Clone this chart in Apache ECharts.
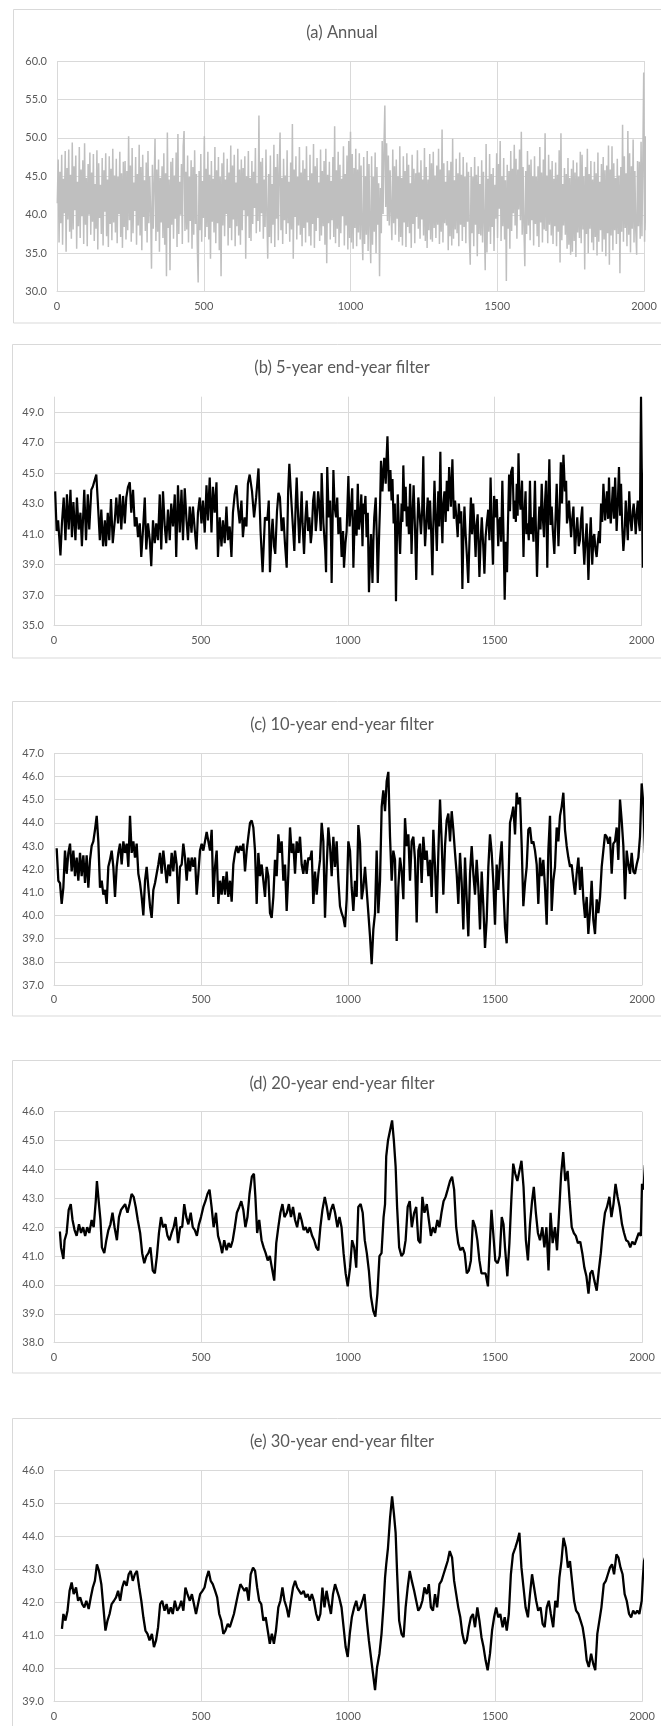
<!DOCTYPE html>
<html><head><meta charset="utf-8">
<script src="https://cdn.jsdelivr.net/npm/echarts@6/dist/echarts.min.js"></script>
<style>html,body{margin:0;padding:0;background:#fff}#c{width:661px;height:1726px}</style>
</head><body><div id="c"></div>
<script>
// ---------------- data ----------------
const titles = ['(a) Annual', '(b) 5-year end-year filter', '(c) 10-year end-year filter', '(d) 20-year end-year filter', '(e) 30-year end-year filter'];
const xRange = [0, 2000, 500];
const yRanges = [[30, 60, 5], [35, 50, 2], [37, 47, 1], [38, 46, 1], [39, 46, 1]];

// (a) annual values, one reading every 3 years from year 1
const annualStart = 1, annualStep = 3;
const annual = [
41.5,47.2,36.4,45.6,38.9,47.8,36.1,44.7,40.2,48.3,
35.2,46.1,39.4,48.5,37.8,45.2,36.9,49.4,38.1,46.3,
40.6,47.7,35.6,44.3,38.5,48.8,37.0,45.9,39.8,47.1,
36.2,49.3,38.7,44.8,35.9,46.6,40.0,48.1,37.4,45.5,
39.1,47.9,36.6,44.0,38.2,48.4,35.5,46.7,39.6,43.9,
37.5,47.4,36.0,45.8,40.4,48.0,37.2,44.6,35.8,47.6,
38.8,46.0,36.7,48.6,39.0,45.1,37.7,47.3,36.3,44.9,
40.1,48.2,37.1,45.4,35.7,46.9,38.4,47.0,36.8,45.7,
38.0,50.2,39.3,46.4,36.5,48.7,37.6,44.2,40.5,47.5,
36.1,45.3,38.6,49.1,37.3,46.2,35.4,47.8,39.7,44.5,
37.9,46.8,36.4,48.3,38.9,45.0,40.3,33.0,46.5,38.2,
44.1,49.9,36.6,45.9,37.8,47.2,35.2,44.8,39.0,46.3,
37.0,48.0,36.1,45.4,32.0,50.7,38.3,44.6,32.8,46.9,
38.7,47.4,36.9,45.1,39.5,48.1,35.8,50.5,37.5,44.3,
40.0,46.6,36.2,48.9,50.9,37.9,45.6,38.1,47.7,36.4,
44.9,39.2,47.1,35.6,46.2,37.4,48.4,38.8,45.3,36.0,
31.2,45.7,38.0,47.9,36.5,44.4,39.6,50.2,37.1,46.0,
38.4,48.2,36.8,45.2,34.3,47.0,39.1,44.7,37.7,48.8,
36.3,45.8,38.9,47.5,35.4,44.9,32.0,46.7,38.6,48.1,
37.2,44.6,40.1,47.3,36.0,45.5,38.3,49.0,36.7,46.4,
39.4,47.8,35.9,44.2,38.5,48.6,37.3,45.9,36.1,47.2,
38.0,46.1,40.6,47.6,34.3,45.0,39.8,48.3,37.0,44.8,
36.6,47.0,38.8,45.6,40.9,48.7,37.6,44.1,39.2,52.9,
37.8,46.9,40.2,47.4,36.9,44.6,38.4,48.5,39.9,34.3,
45.3,37.1,47.7,36.3,44.0,38.7,49.1,35.8,46.2,39.5,
47.9,36.7,45.4,50.7,38.0,44.8,36.2,47.3,39.3,45.1,
37.5,48.4,38.9,44.3,36.5,46.8,38.1,51.8,34.3,45.9,
39.7,47.6,36.8,44.9,38.6,48.8,37.4,45.5,35.9,47.1,
38.3,46.0,36.4,48.9,39.0,44.5,37.2,47.8,36.0,45.4,
38.8,49.2,35.7,46.3,37.9,47.4,39.6,44.2,36.6,48.5,
37.3,45.7,38.5,47.0,36.1,48.6,33.7,45.2,38.9,46.9,
36.8,44.4,39.3,47.5,37.1,51.5,36.3,45.8,38.2,48.2,
35.8,46.5,37.6,44.7,39.8,48.9,36.0,45.3,38.6,47.7,
35.5,49.6,37.0,50.8,36.4,47.9,35.6,46.1,38.3,48.6,
35.9,45.9,37.7,48.0,36.8,46.4,38.0,34.1,47.5,36.2,
45.0,37.4,48.3,35.3,46.6,38.5,33.7,47.6,36.1,44.9,
37.8,48.1,35.0,46.2,38.7,44.1,32.0,43.5,37.6,49.6,
40.1,48.8,54.2,41.0,49.3,39.2,47.7,38.6,45.8,40.3,
36.7,48.5,38.9,46.3,37.4,47.2,39.5,45.0,36.5,48.9,
37.1,44.8,36.0,47.6,39.0,45.7,35.8,48.0,38.4,46.5,
37.6,44.1,35.7,47.8,38.8,46.0,36.3,45.4,39.7,48.4,
38.2,45.5,36.9,47.1,39.4,44.6,37.3,48.7,36.6,46.2,
35.7,44.6,38.0,47.9,36.8,46.7,36.5,48.2,38.3,45.1,
37.0,46.4,38.7,48.6,36.2,45.9,37.8,51.1,36.4,46.7,
38.9,44.3,38.6,47.0,35.4,45.8,37.2,46.9,36.0,49.9,
36.9,44.5,38.1,47.3,37.6,45.4,35.9,48.1,38.7,45.2,
36.6,47.5,38.4,44.9,36.3,46.8,39.1,45.6,37.0,33.5,
46.2,37.6,44.9,35.9,47.5,38.7,45.2,34.6,46.3,37.5,
44.0,37.3,47.1,36.4,45.6,38.9,32.8,49.2,35.1,44.7,
37.8,47.9,36.2,45.3,38.4,46.1,35.3,43.9,39.5,48.0,
37.0,46.6,40.8,49.6,36.6,45.0,38.5,47.4,36.8,44.5,
31.4,46.5,38.2,45.7,35.6,48.3,37.9,46.0,40.2,49.1,
38.6,47.3,36.9,45.9,40.7,48.5,39.3,50.8,37.4,46.2,
38.2,33.3,45.7,37.5,48.3,38.6,46.5,36.7,47.2,39.3,
45.0,36.0,47.6,38.8,44.9,37.2,46.3,35.8,48.8,39.0,
45.5,36.4,47.2,38.1,50.6,37.9,45.1,36.3,47.8,38.7,
45.9,37.3,47.0,36.2,44.7,38.5,46.8,35.9,45.2,37.8,
48.4,33.8,50.6,36.7,44.0,38.6,46.1,37.4,45.3,35.6,
47.4,36.1,44.8,34.8,46.0,35.2,47.1,36.6,45.5,34.5,
46.8,37.7,44.9,37.0,48.2,36.3,47.8,38.1,45.0,32.9,
46.2,37.5,48.6,35.0,45.3,38.2,47.0,36.4,44.6,35.4,
46.9,37.1,45.4,34.7,48.1,36.5,44.3,38.0,46.6,35.2,
47.5,36.8,45.8,34.6,46.4,37.6,49.0,33.5,45.9,37.3,
48.9,35.4,46.7,38.0,44.8,36.2,47.3,37.5,45.1,32.4,
46.2,37.8,51.7,36.5,47.6,38.3,45.4,35.9,50.9,37.4,
48.0,35.1,46.3,38.2,49.8,36.4,45.7,37.9,34.8,47.0,
38.5,46.9,36.9,49.5,37.2,47.2,58.5,36.5,50.2,38.0,
46.5
];

// (b) 5-year filter: [year, value]
const fiveYear = [
[4,43.8],[9,41.2],[14,41.9],[22,39.6],[27,41.7],[33,43.4],[39,40.6],[44,43.6],[50,41.3],[56,43.9],[61,40.8],[66,43.1],[73,40.6],[78,43.4],[84,41.3],[90,42.4],[95,40.2],[103,43.9],[109,40.6],[115,43.6],[120,41.3],[127,43.9],[132,44.1],[138,44.5],[144,44.9],[150,42.8],[156,40.6],[161,42.6],[167,40.2],[173,41.9],[177,40.2],[183,42.4],[188,40.6],[194,43.3],[200,40.4],[207,41.9],[212,43.4],[218,41.7],[224,43.6],[229,41.3],[235,43.5],[241,41.7],[246,43.4],[252,44.1],[258,44.4],[263,42.4],[269,43.9],[275,41.5],[281,42.1],[286,40.8],[292,41.7],[297,39.5],[303,41.3],[309,43.4],[314,40.0],[320,41.7],[326,40.6],[331,38.9],[337,41.9],[343,40.4],[348,41.7],[354,40.6],[360,43.6],[365,40.0],[371,43.8],[377,41.5],[382,40.4],[388,42.6],[394,40.6],[399,43.0],[405,41.5],[411,43.6],[416,39.5],[422,44.2],[428,41.1],[434,43.9],[439,40.6],[445,44.0],[451,41.9],[456,40.6],[462,42.8],[468,41.1],[473,42.8],[479,41.3],[485,40.0],[490,42.4],[496,43.4],[502,41.7],[507,43.2],[513,41.1],[519,44.2],[524,41.9],[530,44.7],[536,41.1],[541,44.1],[547,42.4],[553,44.4],[558,39.5],[564,42.1],[570,40.2],[575,41.9],[581,40.4],[587,42.8],[592,40.6],[598,41.5],[604,39.5],[609,42.4],[615,43.6],[621,44.2],[626,42.8],[632,41.7],[638,43.2],[643,40.8],[649,42.1],[655,41.5],[660,44.3],[666,44.9],
[674,43.8],[681,42.1],[688,43.4],[696,45.3],[703,41.2],[710,38.5],[718,42.1],[726,41.9],[731,43.2],[735,38.5],[741,41.2],[744,42.0],[749,40.2],[753,39.7],[759,42.5],[764,43.7],[769,43.4],[775,41.2],[781,42.1],[786,40.4],[792,38.8],[797,43.8],[801,45.6],[806,43.8],[809,42.8],[814,41.2],[818,39.9],[823,43.2],[826,44.7],[831,42.1],[835,40.4],[840,42.5],[843,43.8],[846,41.7],[851,39.7],[856,42.1],[860,43.2],[865,41.2],[869,42.1],[874,40.4],[877,41.0],[882,43.2],[886,43.8],[891,41.2],[894,41.9],[899,43.8],[903,43.0],[908,41.2],[911,45.0],[917,41.7],[923,40.0],[926,38.5],[930,45.4],[935,42.1],[940,43.2],[943,40.6],[945,37.8],[951,45.2],[955,42.8],[960,42.1],[964,43.4],[968,41.0],[974,42.1],[979,39.5],[984,41.2],[987,38.8],[992,40.4],[996,41.2],[1002,44.8],
[1006,41.5],[1011,42.8],[1015,44.0],[1019,38.8],[1022,41.0],[1025,42.6],[1030,40.9],[1034,44.3],[1038,41.3],[1042,42.1],[1046,43.6],[1050,40.2],[1053,43.0],[1056,42.3],[1060,43.5],[1064,40.8],[1068,42.4],[1072,37.2],[1076,39.5],[1079,41.0],[1084,37.8],[1087,40.5],[1090,42.1],[1095,43.4],[1099,40.6],[1102,37.8],[1107,41.2],[1110,43.0],[1113,45.8],[1118,43.8],[1121,45.0],[1124,46.0],[1129,44.3],[1132,46.0],[1135,47.4],[1140,43.8],[1145,45.2],[1149,43.2],[1152,44.6],[1156,41.7],[1160,43.0],[1164,36.6],[1167,40.5],[1170,43.6],[1174,41.5],[1178,39.7],[1183,43.0],[1186,41.8],[1189,45.5],[1193,42.5],[1197,44.1],[1201,41.5],[1204,42.8],[1208,41.0],[1212,44.3],[1217,39.7],[1220,42.0],[1224,44.2],[1229,41.2],[1233,38.0],[1236,41.0],[1240,43.4],[1245,42.2],[1249,41.0],[1253,42.5],[1257,46.1],[1260,42.0],[1263,40.2],[1268,42.0],[1272,43.4],[1276,41.3],[1280,43.2],[1284,41.0],[1288,38.3],[1291,41.5],[1295,44.5],[1299,42.0],[1303,39.9],[1308,43.8],[1311,41.5],[1315,46.4],[1318,42.5],[1322,40.4],[1325,43.0],[1329,43.8],[1333,41.8],[1337,44.5],[1341,42.5],[1345,45.4],[1351,42.8],[1356,45.9],[1361,42.0],[1365,43.2],[1370,42.0],[1374,40.8],[1378,43.0],[1382,41.7],[1386,42.5],[1390,37.4],[1393,40.5],[1397,42.8],[1401,41.0],[1405,39.7],[1410,37.8],[1414,40.5],[1419,43.4],[1423,41.0],[1427,43.0],[1431,41.5],[1435,39.5],[1438,41.5],[1442,42.3],[1448,38.2],[1452,40.5],[1456,42.1],[1461,40.2],[1465,38.4],[1469,40.8],[1473,41.7],[1478,42.6],[1482,40.6],[1486,44.7],[1490,41.5],[1494,39.0],[1498,43.5],[1503,42.1],[1507,43.3],[1512,40.2],[1515,41.8],[1519,42.1],[1522,40.5],[1526,44.5],[1530,41.0],[1534,36.7],[1538,40.5],[1542,38.5],[1545,41.5],[1549,44.9],[1552,42.5],[1556,45.1],[1561,45.4],[1565,42.0],[1569,43.2],[1572,41.8],[1575,44.3],[1578,42.2],[1581,46.3],[1584,43.5],[1588,42.6],[1593,44.5],[1598,39.5],[1601,42.2],[1605,43.8],[1608,41.0],[1612,41.7],[1616,40.6],[1620,44.5],[1624,41.0],[1628,42.1],[1632,40.5],[1637,44.5],[1640,41.6],[1644,38.2],[1648,41.0],[1652,42.8],[1656,41.3],[1660,44.3],[1664,42.0],[1668,40.8],[1671,43.0],[1675,44.5],[1679,38.8],[1682,42.5],[1686,45.9],[1690,41.6],[1694,42.8],[1698,41.2],[1703,39.7],[1707,42.0],[1711,44.3],[1717,40.2],[1721,42.5],[1725,45.7],[1729,43.0],[1734,46.2],[1739,43.8],[1743,44.5],[1746,41.7],[1750,42.3],[1753,43.2],[1757,41.8],[1760,40.8],[1764,42.0],[1768,42.8],[1773,39.7],[1777,41.0],[1781,42.1],[1786,40.2],[1790,40.6],[1794,42.0],[1798,42.8],[1801,40.5],[1805,39.0],[1809,40.6],[1813,41.7],[1816,40.0],[1819,38.0],[1823,40.5],[1827,42.1],[1832,39.0],[1836,40.8],[1839,41.0],[1843,40.0],[1847,39.5],[1851,40.5],[1855,41.2],[1858,40.4],[1862,43.0],[1866,41.8],[1870,44.3],[1876,41.9],[1879,43.0],[1882,43.8],[1886,42.0],[1889,44.7],[1892,42.6],[1895,41.7],[1899,43.0],[1902,44.1],[1906,42.0],[1910,44.7],[1915,41.2],[1919,43.0],[1923,45.4],[1927,42.2],[1930,44.3],[1934,41.5],[1938,39.9],[1942,41.0],[1946,43.2],[1950,41.8],[1953,40.6],[1958,43.8],[1962,42.0],[1966,41.2],[1970,42.5],[1973,43.0],[1977,42.0],[1980,41.0],[1984,42.5],[1987,43.2],[1991,41.7],[1994,41.2],[1998,50.0],[2004,38.8],[2009,46.1]
];

// (c) 10-year filter, one reading every 5.669 years from year 9.1
const tenYearStart = 9.1, tenYearStep = 5.669;
const tenYear = [
42.9,41.5,41.4,40.5,41.2,42.8,41.8,42.7,43.1,41.9,
42.8,41.7,42.5,41.5,42.7,41.7,42.6,41.4,42.6,41.2,
42.4,43.0,43.2,43.7,44.3,43.2,41.2,41.5,40.9,41.1,
40.5,42.1,42.4,42.8,42.1,40.8,42.1,42.7,43.1,42.2,
43.2,42.7,43.1,42.1,44.3,42.7,43.2,42.5,43.1,41.8,
41.4,40.8,40.0,41.5,42.1,41.2,40.4,39.9,41.1,41.4,
41.8,42.2,42.7,41.8,42.8,42.1,41.4,42.2,41.7,42.7,
41.9,42.8,42.2,40.5,42.1,42.2,43.1,42.5,41.5,42.5,
41.9,42.5,42.1,42.5,40.9,41.8,42.8,43.1,42.8,43.2,
43.6,43.2,42.8,43.7,40.8,42.1,42.8,40.5,41.5,40.9,
41.7,40.9,41.9,40.8,41.5,40.6,42.2,42.7,43.0,42.7,
43.0,42.8,43.1,41.9,42.8,43.4,44.0,44.1,43.8,42.8,
40.5,42.7,41.7,42.2,41.5,40.8,42.1,41.7,40.1,39.9,
40.8,42.4,41.7,43.5,42.7,43.2,41.5,42.2,40.2,41.8,
43.8,42.7,43.1,41.8,43.2,42.7,43.4,42.2,41.8,42.4,
41.8,42.5,42.4,42.8,40.5,41.9,40.9,41.8,42.4,44.0,
43.2,39.9,42.1,43.8,43.0,41.7,43.4,42.1,43.2,41.5,
40.4,40.1,39.9,39.5,40.7,43.2,
42.8,41.2,40.2,41.5,40.8,43.9,43.1,40.7,41.2,42.1,
41.1,40.1,39.1,37.9,39.4,40.1,42.8,40.1,41.5,44.7,
45.4,44.5,45.8,46.2,43.4,41.5,42.8,42.4,38.9,41.2,
42.5,41.9,40.7,44.2,43.0,43.5,41.5,43.2,43.4,42.4,
39.7,42.8,43.1,41.4,43.4,42.4,42.8,41.7,42.4,40.8,
43.7,42.1,40.1,42.7,45.0,43.2,40.9,43.0,44.1,44.4,
43.2,44.5,43.7,42.7,41.8,40.5,42.7,41.4,39.4,42.5,
40.7,39.1,41.8,43.0,41.8,40.9,42.4,41.2,39.4,41.9,
40.4,38.6,39.8,42.1,43.5,42.7,41.4,39.6,42.2,41.1,
42.4,43.2,41.2,39.5,38.8,41.2,44.0,44.3,44.7,43.5,
45.3,44.8,45.1,43.0,40.4,41.4,42.1,43.7,43.8,43.1,
43.2,42.8,42.2,40.5,42.5,41.7,42.4,41.2,39.6,42.8,
44.3,40.2,41.5,42.1,43.8,43.2,44.3,44.7,45.3,43.7,
43.0,42.5,42.1,42.2,41.5,40.9,41.8,42.5,41.1,42.1,
40.7,39.9,40.8,39.2,40.2,41.5,39.8,39.2,40.7,40.1,
40.8,42.1,42.8,43.5,43.4,43.1,43.4,41.8,43.1,43.2,
43.8,42.4,45.0,44.1,43.0,40.7,42.8,42.2,41.8,42.7,
41.9,41.8,42.2,42.5,43.4,45.7,44.8,42.7
];

// (d) 20-year filter: [year, value]
const twentyYear = [
[20,41.85],[24,41.3],[32,40.9],[36,41.55],[43,41.8],[50,42.6],[57,42.8],[63,42.25],[70,41.9],[77,41.7],[85,42.1],[92,41.8],[99,42.0],[106,41.7],[113,42.0],[120,41.8],[128,42.25],[135,42.0],[142,42.9],[146,43.6],[152,42.9],[158,42.25],[163,41.3],[171,41.1],[178,41.55],[185,41.9],[192,42.1],[199,42.5],[206,42.0],[214,41.55],[221,42.35],[228,42.6],[235,42.7],[242,42.8],[250,42.5],[257,42.8],[264,43.15],[271,43.05],[278,42.7],[285,42.25],[293,41.8],[300,41.1],[307,40.75],[314,41.0],[321,41.1],[328,41.3],[336,40.5],[343,40.4],[350,41.0],[357,41.8],[364,42.35],[371,42.0],[379,42.1],[386,41.7],[393,41.55],[400,41.8],[407,42.0],[414,42.35],[422,41.45],[429,42.0],[436,42.0],[443,42.8],[450,42.35],[457,42.1],[465,42.5],[472,42.0],[479,41.9],[486,41.7],[493,42.1],[500,42.35],[508,42.7],[515,42.9],[522,43.15],[529,43.3],[536,42.7],[543,42.0],[551,42.5],[558,41.7],[565,41.45],[572,41.1],[579,41.55],[587,41.2],[594,41.45],[601,41.3],[608,41.55],[615,42.0],[622,42.5],[630,42.7],[637,42.9],[644,42.6],[651,42.0],[658,42.35],[665,43.15],[673,43.75],[680,43.85],[685,43.05],[691,41.8],[698,42.25],[706,41.55],[713,41.3],[720,41.1],[727,40.85],[734,41.0],[741,40.6],[749,40.15],[756,41.45],[763,42.0],[770,42.5],[777,42.8],[784,42.35],[792,42.5],[799,42.8],[806,42.35],[813,42.7],[820,42.25],[827,42.0],[835,42.5],[842,42.25],[849,41.9],[856,42.0],[863,41.8],[870,42.0],[878,41.7],[885,41.55],[892,41.3],[899,41.2],[906,42.0],[913,42.6],[921,43.05],[928,42.7],[935,42.25],[942,42.6],[949,42.8],[956,42.5],[964,42.0],[971,42.35],[978,42.0],[985,41.1],[992,40.4],[999,39.95],[1007,40.6],[1014,41.55],[1021,41.3],[1028,40.6],[1035,42.7],[1043,42.8],[1050,42.5],[1057,41.55],[1064,41.1],[1071,40.5],[1078,39.6],[1086,39.1],[1093,38.9],[1100,39.7],[1107,41.0],[1114,41.1],[1121,42.35],[1126,42.8],[1130,44.45],[1136,45.0],[1143,45.35],[1150,45.7],[1156,45.0],[1162,44.1],[1167,42.7],[1174,41.3],[1182,41.0],[1189,41.1],[1196,41.55],[1203,42.7],[1210,42.9],[1217,42.0],[1225,42.5],[1232,42.7],[1239,41.55],[1246,41.45],[1253,43.05],[1260,42.5],[1268,42.8],[1275,42.25],[1282,41.7],[1289,42.0],[1296,41.8],[1304,42.25],[1311,42.0],[1318,42.5],[1325,42.9],[1332,43.05],[1339,43.3],[1347,43.6],[1354,43.75],[1361,43.3],[1368,42.0],[1375,41.45],[1382,41.2],[1390,41.3],[1397,41.1],[1404,40.4],[1411,40.5],[1418,40.85],[1425,42.25],[1433,42.0],[1440,41.55],[1447,40.85],[1454,40.4],[1461,40.4],[1468,40.4],[1476,39.95],[1483,41.55],[1488,42.6],[1494,41.8],[1501,40.85],[1509,40.75],[1516,41.0],[1523,42.35],[1529,42.1],[1534,41.3],[1542,40.3],[1549,41.45],[1556,43.05],[1562,44.2],[1569,43.85],[1576,43.6],[1583,43.95],[1590,44.3],[1597,43.4],[1605,41.55],[1612,40.85],[1619,42.1],[1626,42.9],[1632,43.4],[1639,42.5],[1646,41.8],[1653,41.55],[1661,42.0],[1668,41.3],[1675,42.0],[1682,40.5],[1689,42.5],[1696,41.45],[1704,42.0],[1711,41.2],[1718,42.5],[1725,43.85],[1732,44.6],[1739,43.6],[1747,43.95],[1754,42.9],[1761,42.0],[1768,41.8],[1775,41.7],[1782,41.45],[1790,41.5],[1797,41.1],[1804,40.6],[1811,40.3],[1818,39.7],[1824,40.4],[1831,40.5],[1838,40.15],[1846,39.8],[1853,40.5],[1860,41.1],[1867,41.9],[1874,42.5],[1881,42.7],[1889,43.05],[1896,42.35],[1903,42.8],[1910,43.5],[1917,43.05],[1924,42.7],[1932,42.1],[1939,41.8],[1946,41.55],[1953,41.5],[1960,41.3],[1967,41.5],[1975,41.4],[1982,41.6],[1989,41.8],[1996,41.7],[2000,43.5],[2005,43.3],[2010,44.15]
];

// (e) 30-year filter: [year, value]
const thirtyYear = [
[27,41.2],[32,41.65],[39,41.45],[46,41.75],[53,42.35],[60,42.6],[67,42.25],[75,42.45],[82,42.05],[89,42.15],[96,41.95],[103,41.85],[110,42.05],[118,41.8],[125,42.15],[132,42.45],[139,42.65],[146,43.15],[153,42.95],[161,42.55],[168,41.85],[175,41.15],[182,41.45],[189,41.65],[196,41.95],[204,42.05],[211,42.15],[218,42.35],[225,42.05],[232,42.45],[239,42.65],[247,42.5],[254,42.85],[261,42.95],[268,42.65],[275,42.85],[282,42.95],[290,42.45],[297,42.05],[304,41.55],[311,41.15],[318,41.05],[325,40.85],[333,41.05],[340,40.65],[347,40.85],[354,41.25],[361,41.95],[368,42.05],[376,41.75],[383,41.95],[390,41.65],[397,41.85],[404,41.65],[411,42.05],[419,41.75],[426,41.85],[433,42.05],[440,41.75],[447,42.45],[454,42.25],[462,42.05],[469,42.25],[476,41.95],[483,41.65],[490,41.95],[497,42.25],[505,42.35],[512,42.45],[519,42.75],[526,42.95],[533,42.65],[540,42.55],[548,42.35],[555,42.15],[562,41.65],[569,41.45],[576,41.05],[583,41.15],[591,41.35],[598,41.25],[605,41.45],[612,41.65],[619,41.95],[626,42.25],[634,42.55],[641,42.45],[648,42.35],[655,42.45],[662,42.05],[669,42.85],[677,43.05],[684,42.95],[691,42.45],[698,42.05],[705,41.95],[712,41.45],[720,41.55],[727,41.15],[734,40.75],[741,41.05],[748,40.75],[755,41.15],[763,41.85],[770,42.05],[777,42.45],[784,42.05],[791,41.85],[798,41.55],[806,42.05],[813,42.45],[820,42.65],[827,42.45],[834,42.35],[841,42.25],[849,42.35],[856,42.15],[863,42.25],[870,42.05],[877,42.25],[884,42.05],[892,41.65],[899,41.45],[906,41.65],[913,42.45],[920,41.85],[927,42.35],[935,41.95],[942,41.65],[949,42.25],[956,42.55],[963,42.35],[970,42.15],[978,41.85],[985,41.25],[992,40.65],[999,40.35],[1006,41.05],[1013,41.55],[1021,41.85],[1028,42.05],[1035,41.75],[1042,41.85],[1049,42.05],[1056,42.25],[1064,41.45],[1071,40.85],[1078,40.35],[1085,39.85],[1092,39.35],[1099,40.05],[1107,40.45],[1114,41.05],[1121,41.95],[1126,42.75],[1130,43.15],[1136,43.65],[1143,44.55],[1150,45.2],[1156,44.7],[1162,44.1],[1167,42.9],[1174,41.45],[1182,41.05],[1189,40.95],[1196,41.85],[1203,42.45],[1210,42.95],[1217,42.65],[1225,42.35],[1232,42.05],[1239,41.75],[1246,41.85],[1253,42.05],[1260,42.45],[1268,42.25],[1275,42.55],[1282,41.85],[1289,41.75],[1296,42.25],[1303,41.85],[1311,42.55],[1318,42.65],[1325,42.85],[1332,43.05],[1339,43.25],[1346,43.55],[1354,43.35],[1361,42.65],[1368,42.25],[1375,41.85],[1382,41.55],[1389,41.05],[1397,40.75],[1404,40.85],[1411,41.25],[1418,41.55],[1425,41.65],[1432,41.25],[1440,41.85],[1447,41.45],[1454,40.95],[1461,40.65],[1468,40.25],[1475,39.95],[1483,40.45],[1490,41.15],[1497,41.55],[1504,41.85],[1511,41.55],[1518,41.65],[1526,41.25],[1533,41.55],[1540,41.15],[1547,41.65],[1554,42.85],[1561,43.45],[1569,43.65],[1576,43.85],[1583,44.1],[1590,43.05],[1597,42.45],[1604,41.85],[1612,41.55],[1619,42.25],[1626,42.85],[1633,42.45],[1640,42.05],[1647,41.75],[1655,41.85],[1662,41.35],[1669,41.25],[1676,41.85],[1683,42.05],[1690,41.65],[1698,41.25],[1705,42.05],[1712,41.85],[1719,42.75],[1726,43.25],[1733,43.95],[1741,43.65],[1748,43.05],[1755,43.25],[1762,42.65],[1769,42.05],[1776,41.75],[1784,41.65],[1791,41.45],[1798,41.25],[1805,40.85],[1812,40.25],[1819,40.05],[1827,40.45],[1834,40.15],[1841,39.95],[1848,41.05],[1855,41.45],[1862,41.85],[1870,42.55],[1877,42.65],[1884,42.85],[1891,43.05],[1898,43.15],[1905,42.85],[1913,43.45],[1920,43.35],[1927,43.05],[1934,42.85],[1941,42.25],[1948,42.05],[1956,41.65],[1963,41.55],[1970,41.75],[1977,41.65],[1984,41.75],[1991,41.65],[1999,42.05],[2003,42.75],[2007,43.25],[2010,43.35]
];

// ---------------- build ----------------
const annualData = annual.map((v, i) => [annualStart + i * annualStep, v]);
const tenYearData = tenYear.map((v, i) => [+(tenYearStart + i * tenYearStep).toFixed(1), v]);
const seriesData = [annualData, fiveYear, tenYearData, twentyYear, thirtyYear];

const grids = [
  {left: 57, top: 61, width: 587, height: 230.7},
  {left: 54, top: 396.7, width: 587.6, height: 229},
  {left: 54, top: 753.3, width: 588, height: 231.7},
  {left: 54, top: 1111.7, width: 588, height: 231},
  {left: 54, top: 1470, width: 588, height: 231.7}
];
const titleY = [33, 368, 725, 1084, 1442];
const boxes = [[13.5, 9.5, 700, 313.5], [12.5, 344.5, 700, 313.5], [12.5, 701.5, 700, 314.5], [12.5, 1060.5, 700, 312.5], [12.5, 1418.5, 700, 400]];
const FONT = 'Lato, "Open Sans", sans-serif';
const GRID_C = '#d9d9d9', TEXT_C = '#595959';
const lineColors = ['#bfbfbf', '#000000', '#000000', '#000000', '#000000'];
const lineWidths = [1.5, 2.2, 2.3, 2.3, 2.3];

const chart = echarts.init(document.getElementById('c'), null, {renderer: 'canvas'});
chart.setOption({
  animation: false,
  backgroundColor: '#fff',
  title: titles.map((t, i) => ({
    text: t, left: 342, top: titleY[i] - 10, textAlign: 'center', padding: 0,
    textStyle: {fontFamily: FONT, fontSize: 16.5, fontWeight: 'normal', color: TEXT_C, lineHeight: 20}
  })),
  graphic: boxes.map(b => ({
    type: 'rect', silent: true, z: -10,
    shape: {x: b[0], y: b[1], width: b[2], height: b[3]},
    style: {fill: 'none', stroke: GRID_C, lineWidth: 1}
  })),
  grid: grids.map(g => Object.assign({containLabel: false}, g)),
  xAxis: grids.map((g, i) => ({
    gridIndex: i, type: 'value', min: xRange[0], max: xRange[1], interval: xRange[2],
    axisLine: {show: true, onZero: false, lineStyle: {color: GRID_C, width: 1}},
    axisTick: {show: false},
    axisLabel: {color: TEXT_C, fontFamily: FONT, fontSize: 11, margin: 9, formatter: v => String(v)},
    splitLine: {show: true, lineStyle: {color: GRID_C, width: 1}}
  })),
  yAxis: yRanges.map((r, i) => ({
    gridIndex: i, type: 'value', min: r[0], max: r[1], interval: r[2],
    axisLine: {show: false}, axisTick: {show: false},
    axisLabel: {color: TEXT_C, fontFamily: FONT, fontSize: 11, margin: 10,
      formatter: v => v.toFixed(1), showMaxLabel: i !== 1},
    splitLine: {show: true, showMaxLine: i !== 1, lineStyle: {color: GRID_C, width: 1}}
  })),
  series: seriesData.map((d, i) => ({
    type: 'line', xAxisIndex: i, yAxisIndex: i, data: d,
    showSymbol: false, symbol: 'none', clip: false,
    lineStyle: {color: lineColors[i], width: lineWidths[i]},
    emphasis: {disabled: true}
  }))
});
</script>
</body></html>
